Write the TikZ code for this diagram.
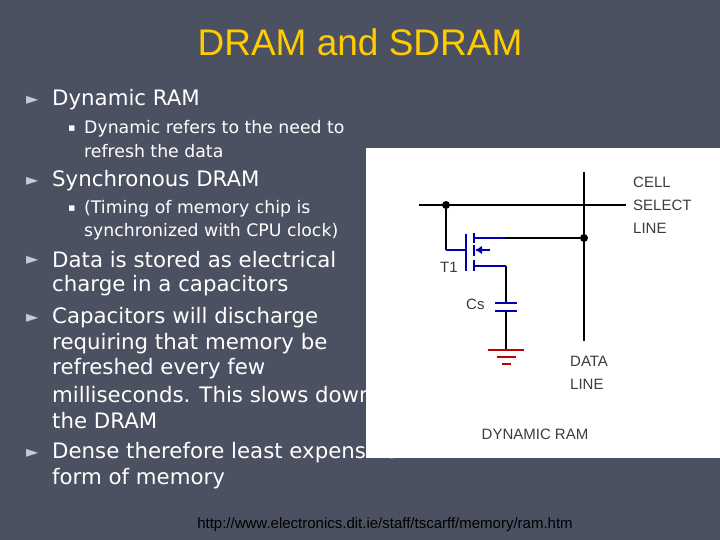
\documentclass[tikz,border=0pt]{standalone}
\usepackage{fontspec}
\setmainfont{DejaVu Sans}
\newfontfamily\djfont{DejaVu Sans}
\newfontfamily\lsfont{Liberation Sans}
\begin{document}
\begin{tikzpicture}[x=1pt,y=-1pt,
  bg/.style={fill={rgb,255:red,76;green,81;blue,97}},
  main/.style={anchor=west,inner sep=0,text=white,font=\fontsize{21.3}{25}\selectfont},
  sub/.style={anchor=west,inner sep=0,text=white,font=\fontsize{17.3}{20}\selectfont},
  tri/.style={anchor=west,inner sep=0,text={rgb,255:red,200;green,200;blue,215},font=\djfont\fontsize{16}{18}\selectfont},
  lbl/.style={anchor=west,inner sep=0,text={rgb,255:red,60;green,60;blue,60},font=\lsfont\fontsize{15}{17}\selectfont},
  wire/.style={line width=1.3pt},
  dot/.style={circle,fill=black,inner sep=0,minimum size=8pt}]
\fill[bg] (0,0) rectangle (720,540);
\useasboundingbox (0,0) rectangle (720,540);
\node[inner sep=0,text={rgb,255:red,255;green,204;blue,0},font=\lsfont\fontsize{37}{42}\selectfont] (title) at (360,42) {DRAM and SDRAM};
\node[tri] (b1) at (26,100) {►};
\node[main] (t1) at (52,100) {Dynamic RAM};
\node[sub,font=\djfont\fontsize{11}{12}\selectfont] (s1) at (68,129) {▪};
\node[sub] (t2) at (84,129) {Dynamic refers to the need to};
\node[sub] (t3) at (84,151) {refresh the data};
\node[tri] (b2) at (26,181) {►};
\node[main] (t4) at (52,181) {Synchronous DRAM};
\node[sub,font=\djfont\fontsize{11}{12}\selectfont] (s2) at (68,209) {▪};
\node[sub] (t5) at (84,209) {(Timing of memory chip is};
\node[sub] (t6) at (84,232) {synchronized with CPU clock)};
\node[tri] (b3) at (26,260) {►};
\node[main] (t7) at (52,260) {Data is stored as electrical};
\node[main] (t8) at (52,286) {charge in a capacitors};
\node[tri] (b4) at (26,318) {►};
\node[main] (t9) at (52,318) {Capacitors will discharge};
\node[main] (t10) at (52,344) {requiring that memory be};
\node[main] (t11) at (52,369) {refreshed every few};
\node[main] (t12) at (52,395) {milliseconds. This slows down};
\node[main] (t13) at (52,421) {the DRAM};
\node[tri] (b5) at (26,453) {►};
\node[main] (t14) at (52,453) {Dense therefore least expensive};
\node[main] (t15) at (52,479) {form of memory};
\node[inner sep=0,text=black,font=\lsfont\fontsize{15}{17}\selectfont] (url) at (385,525) {http://www.electronics.dit.ie/staff/tscarff/memory/ram.htm};
% panel
\fill[white] (366,148) rectangle (720,458);
\coordinate (hl) at (419,205); \coordinate (hr) at (626,205);
\node[dot] (d1) at (446,205) {};
\coordinate (vt) at (584,172); \coordinate (vb) at (584,341);
\node[dot] (d2) at (584,238) {};
\draw[wire] (hl) -- (hr);
\draw[wire] (vt) -- (vb);
\coordinate (g1) at (446,250); \coordinate (g2) at (466,250);
\draw[wire] (d1) -- (g1);
\draw[wire,blue!70!black] (g1) -- (g2);
\draw[line width=2pt,blue!70!black] (466,234) -- (466,271);
\draw[line width=2pt,blue!70!black] (474,233) -- (474,243) (474,245) -- (474,256) (474,260) -- (474,271);
\draw[wire,blue!70!black] (474,238) -- (505,238);
\draw[wire] (505,238) -- (d2);
\draw[wire,blue!70!black] (490,250) -- (476,250);
\fill[blue!70!black] (476,250) -- (482,246) -- (482,254) -- cycle;
\draw[wire,blue!70!black] (474,266) -- (506,266);
\draw[wire] (506,266) -- (506,303) (506,311) -- (506,350);
\draw[wire,blue!70!black] (495,303) -- (517,303) (495,311) -- (517,311);
\draw[wire,red!75!black] (488,350) -- (524,350) (497,357) -- (516,357) (502,364) -- (511,364);
\node[lbl] (c1) at (633,182) {CELL};
\node[lbl] (c2) at (633,205) {SELECT};
\node[lbl] (c3) at (633,228) {LINE};
\node[lbl] (tt) at (440,267) {T1};
\node[lbl] (cs) at (466,304) {Cs};
\node[lbl] (dl1) at (570,361) {DATA};
\node[lbl] (dl2) at (570,384) {LINE};
\node[inner sep=0,text={rgb,255:red,60;green,60;blue,60},font=\lsfont\fontsize{15}{17}\selectfont] (dr) at (535,434) {DYNAMIC RAM};
\end{tikzpicture}
\end{document}
